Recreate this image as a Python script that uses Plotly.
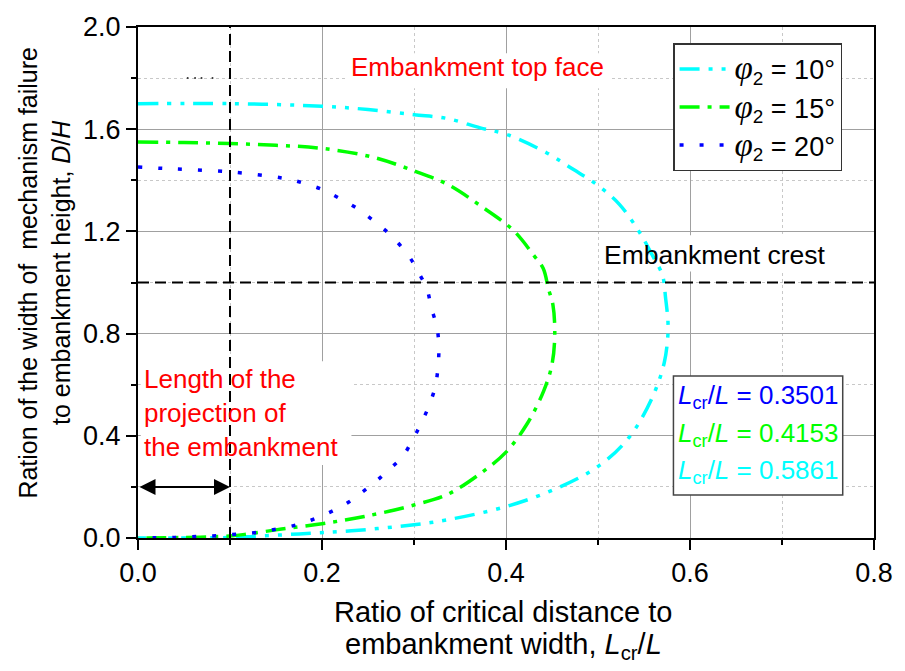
import plotly.graph_objects as go

# ---------------- data ----------------
phi_labels = ["10°", "15°", "20°"]
lcr_values = ["0.5861", "0.4153", "0.3501"]

x_phi10 = [0.0, 0.1, 0.2, 0.25, 0.3, 0.336, 0.372, 0.401, 0.444, 0.473, 0.498, 0.523, 0.545, 0.559,
           0.570, 0.5735, 0.576, 0.576, 0.572, 0.559, 0.534, 0.502, 0.455, 0.40, 0.336, 0.30,
           0.232, 0.175, 0.125, 0.1, 0.0]
y_phi10 = [1.70, 1.70, 1.69, 1.677, 1.657, 1.642, 1.605, 1.579, 1.508, 1.443, 1.385, 1.307, 1.197, 1.107,
           1.029, 0.938, 0.85, 0.796, 0.686, 0.55, 0.395, 0.285, 0.194, 0.123, 0.071, 0.052,
           0.028, 0.016, 0.006, 0.002, 0.0]

x_phi15 = [0.0, 0.05, 0.1, 0.15, 0.2, 0.257, 0.3, 0.336, 0.372, 0.408, 0.43, 0.4405, 0.446, 0.451,
           0.453, 0.450, 0.441, 0.423, 0.40, 0.372, 0.336, 0.30, 0.246, 0.2, 0.156, 0.12, 0.1,
           0.05, 0.0]
y_phi15 = [1.55, 1.548, 1.544, 1.537, 1.525, 1.489, 1.437, 1.385, 1.301, 1.204, 1.107, 1.055, 0.977, 0.913,
           0.796, 0.68, 0.576, 0.447, 0.336, 0.252, 0.170, 0.129, 0.084, 0.056, 0.035, 0.016, 0.008,
           0.002, 0.0]

x_phi20 = [0.0, 0.03, 0.1, 0.158, 0.18, 0.2015, 0.219, 0.239, 0.257, 0.275, 0.295, 0.304, 0.314, 0.319,
           0.325, 0.327, 0.326, 0.323, 0.316, 0.307, 0.299, 0.288, 0.273, 0.258, 0.242, 0.227,
           0.21, 0.192, 0.173, 0.151, 0.129, 0.108, 0.086, 0.065, 0.043, 0.02, 0.0]
y_phi20 = [1.452, 1.446, 1.433, 1.408, 1.389, 1.362, 1.329, 1.288, 1.239, 1.184, 1.10, 1.045, 0.975, 0.899,
           0.824, 0.747, 0.666, 0.591, 0.515, 0.443, 0.388, 0.321, 0.268, 0.22, 0.175, 0.136,
           0.103, 0.075, 0.052, 0.035, 0.022, 0.015, 0.009, 0.006, 0.002, 0.001, 0.0]

artifact_x = [0.054, 0.062, 0.069, 0.081]
artifact_y = [1.80, 1.80, 1.80, 1.80]

crest_y = 1.0          # embankment crest, D/H
projection_x = 0.1     # length of the projection of the embankment
arrow_y = 0.2

x_range = [0.0, 0.8]
y_range = [0.0, 2.0]

# ---------------- styles ----------------
FONT = "Arial, 'Liberation Sans', sans-serif"
SERIF = "'Liberation Serif', 'Times New Roman', serif"
colors = ["#00FFFF", "#00FF00", "#0000FF"]
dashes = ["20px,9px,4px,9px,4px,9px", "20px,8px,4px,8px", "4px,16px"]

fig = go.Figure()

series = [(x_phi10, y_phi10), (x_phi15, y_phi15), (x_phi20, y_phi20)]
for (xs, ys), lab, col, dsh in zip(series, phi_labels, colors, dashes):
    fig.add_trace(go.Scatter(
        x=xs, y=ys, mode="lines",
        line=dict(color=col, width=3.5, dash=dsh, shape="spline", smoothing=1.0),
        name=(f'<span style="font-family:{SERIF};font-size:33px"><i>φ</i></span>'
              f'<sub>2</sub> = {lab}'),
        legendgroup=lab,
        hoverinfo="skip",
    ))

fig.add_trace(go.Scatter(x=artifact_x, y=artifact_y, mode="markers",
                         marker=dict(color="#333", size=2), showlegend=False, hoverinfo="skip"))

# white backgrounds behind texts (above grid, below curves)
bg_boxes = [
    (0.228, 0.514, 1.76, 1.897),
    (0.503, 0.755, 1.043, 1.185),
    (0.003, 0.232, 0.286, 0.692),
]
for x0, x1, y0, y1 in bg_boxes:
    fig.add_shape(type="rect", xref="x", yref="y", x0=x0, x1=x1, y0=y0, y1=y1,
                  fillcolor="white", line=dict(width=0), layer="between")

# reference dashed lines
fig.add_shape(type="line", xref="x", yref="y", x0=projection_x, x1=projection_x,
              y0=y_range[0], y1=y_range[1], line=dict(color="black", width=2, dash="11px,6px"),
              layer="above")
fig.add_shape(type="line", xref="x", yref="y", x0=x_range[0], x1=x_range[1],
              y0=crest_y, y1=crest_y, line=dict(color="black", width=2, dash="11px,6px"),
              layer="above")

# Lcr/L box
fig.add_shape(type="rect", xref="x", yref="y", x0=0.582, x1=0.766, y0=0.168, y1=0.634,
              fillcolor="white", line=dict(color="#444", width=1.5), layer="above")

lcr_colors = ["#0000FF", "#00FF00", "#00FFFF"]
lcr_order = [lcr_values[2], lcr_values[1], lcr_values[0]]
lcr_rows_y = [0.553, 0.405, 0.261]
for val, col, yy in zip(lcr_order, lcr_colors, lcr_rows_y):
    fig.add_annotation(x=0.585, y=yy, xref="x", yref="y", xanchor="left", yanchor="middle",
                       text=f"<i>L</i><sub>cr</sub>/<i>L</i> = {val}", showarrow=False,
                       font=dict(family=FONT, size=26, color=col))

# texts
fig.add_annotation(x=0.3686, y=1.845, xref="x", yref="y", text="Embankment top face",
                   showarrow=False, font=dict(family=FONT, size=26, color="#FF0000"))
fig.add_annotation(x=0.6275, y=1.107, xref="x", yref="y", text="Embankment crest",
                   showarrow=False, font=dict(family=FONT, size=26.5, color="black"))
fig.add_annotation(x=0.004, y=0.49, xref="x", yref="y", xanchor="left", yanchor="middle",
                   align="left", text="Length of the<br>projection of<br>the embankment",
                   showarrow=False, font=dict(family=FONT, size=26, color="#FF0000"))

# double arrow
fig.add_annotation(x=projection_x, y=arrow_y, ax=x_range[0], ay=arrow_y, xref="x", yref="y",
                   axref="x", ayref="y", text="", showarrow=True, arrowside="end+start",
                   arrowhead=2, arrowsize=1.6, arrowwidth=2, arrowcolor="black")

# axis titles
fig.add_annotation(x=0.4966, y=-0.1445, xref="paper", yref="paper", xanchor="center", yanchor="middle",
                   text="Ratio of critical distance to",
                   showarrow=False, font=dict(family=FONT, size=29, color="black"))
fig.add_annotation(x=0.4966, y=-0.2105, xref="paper", yref="paper", xanchor="center", yanchor="middle",
                   text="embankment width, <i>L</i><sub>cr</sub>/<i>L</i>",
                   showarrow=False, font=dict(family=FONT, size=29, color="black"))
fig.add_annotation(x=-0.1266, y=0.519, xref="paper", yref="paper", xanchor="center", yanchor="middle",
                   textangle=-90,
                   text="Ration of the width of&nbsp; mechanism failure<br>to embankment height, <i>D</i>/<i>H</i>",
                   showarrow=False, font=dict(family=FONT, size=25, color="black"))

axis_common = dict(
    showline=True, linecolor="black", linewidth=2, mirror=True,
    ticks="outside", ticklen=10, tickwidth=2, tickcolor="black",
    showgrid=True, gridcolor="#A0A0A0", gridwidth=1.2,
    zeroline=False,
    tickfont=dict(family=FONT, size=27, color="black"),
)

fig.update_xaxes(range=x_range, dtick=0.2, tick0=0, tickformat=".1f",
                 minor=dict(dtick=0.1, ticks="outside", ticklen=5, tickcolor="black",
                            showgrid=True, gridcolor="#C8C8C8", griddash="dot", gridwidth=1),
                 **axis_common)
fig.update_yaxes(range=y_range, dtick=0.4, tick0=0, tickformat=".1f",
                 minor=dict(dtick=0.2, ticks="outside", ticklen=5, tickcolor="black",
                            showgrid=True, gridcolor="#C8C8C8", griddash="dot", gridwidth=1),
                 **axis_common)

fig.update_layout(
    width=905, height=671,
    margin=dict(l=138, r=25, t=23, b=133),
    paper_bgcolor="white", plot_bgcolor="white",
    font=dict(family=FONT, size=26, color="black"),
    showlegend=True,
    legend=dict(x=0.727, y=0.968, xanchor="left", yanchor="top",
                bgcolor="white", bordercolor="#333", borderwidth=1.5,
                font=dict(family=FONT, size=27, color="black"),
                itemwidth=50, tracegroupgap=4, traceorder="normal"),
)

fig.write_html("out.html")
